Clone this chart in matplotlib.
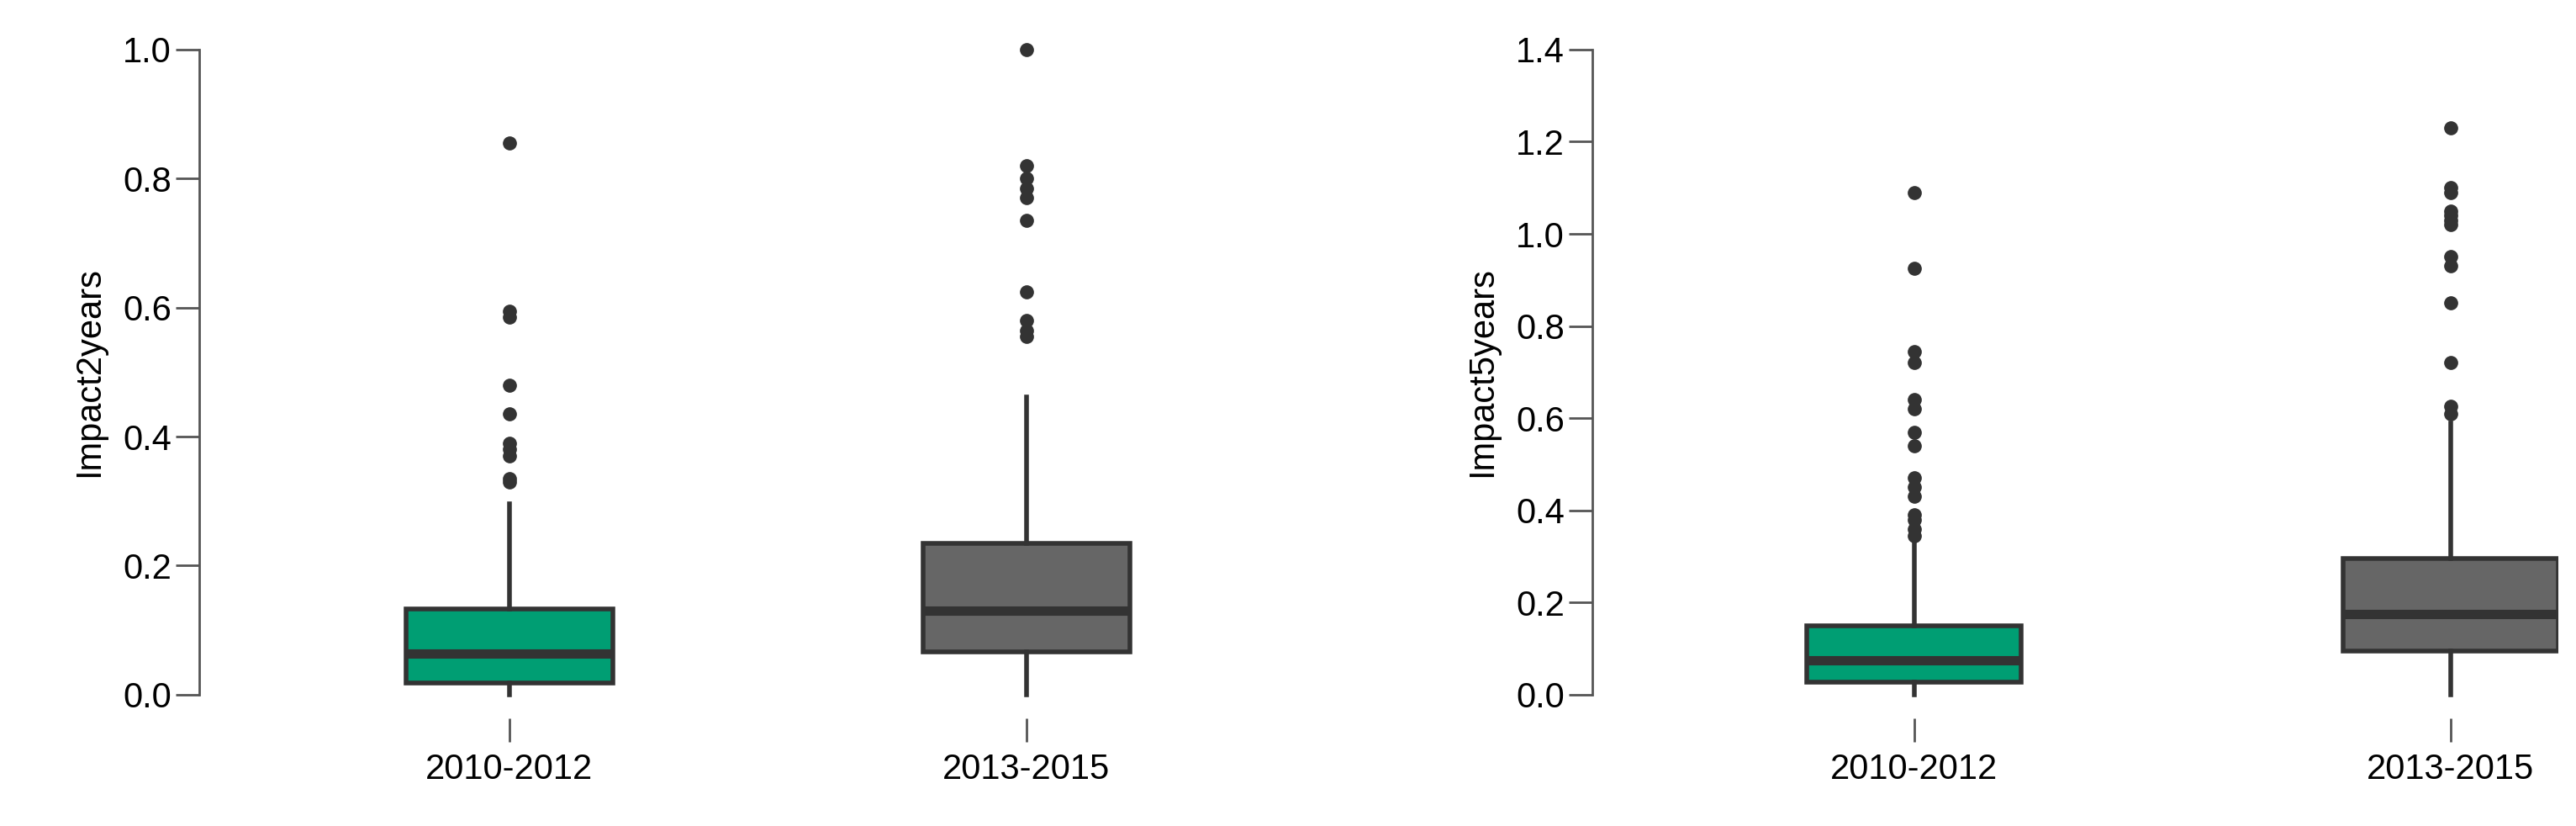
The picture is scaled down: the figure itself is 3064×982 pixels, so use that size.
import matplotlib
matplotlib.use("Agg")
import matplotlib.pyplot as plt

plt.rcParams['font.family'] = ['Liberation Sans', 'DejaVu Sans']

groups = ["2010-2012", "2013-2015"]
colors = ["#009E73", "#666666"]

# Impact2years stats
i2_q1 = [0.018, 0.066]; i2_med = [0.064, 0.130]; i2_q3 = [0.133, 0.235]
i2_lo = [0.0, 0.0]; i2_hi = [0.296, 0.462]
i2_fliers = [[0.33, 0.335, 0.37, 0.38, 0.39, 0.435, 0.48, 0.585, 0.595, 0.855],
             [0.555, 0.565, 0.58, 0.625, 0.735, 0.77, 0.785, 0.80, 0.82, 1.0]]
# Impact5years stats
i5_q1 = [0.028, 0.095]; i5_med = [0.075, 0.175]; i5_q3 = [0.150, 0.295]
i5_lo = [0.0, 0.0]; i5_hi = [0.335, 0.59]
i5_fliers = [[0.345, 0.36, 0.38, 0.39, 0.43, 0.45, 0.47, 0.54, 0.57, 0.62, 0.64, 0.72, 0.745, 0.925, 1.09],
             [0.61, 0.625, 0.72, 0.85, 0.93, 0.95, 1.02, 1.03, 1.04, 1.05, 1.09, 1.10, 1.23]]

fig = plt.figure(figsize=(30.64, 9.82), dpi=100)
ax1 = fig.add_axes([0.0772, 0.159, 0.4216, 0.781])
ax2 = fig.add_axes([0.618, 0.159, 0.375, 0.781])

def draw(ax, q1, med, q3, lo, hi, fl, ylabel, ymax, xmax):
    stats = [dict(q1=q1[i], med=med[i], q3=q3[i], whislo=lo[i], whishi=hi[i],
                  fliers=fl[i], label=groups[i]) for i in range(2)]
    bp = ax.bxp(stats, positions=[1, 2], widths=0.4, patch_artist=True,
                boxprops=dict(edgecolor="#333333", linewidth=4),
                medianprops=dict(color="#333333", linewidth=8),
                whiskerprops=dict(color="#333333", linewidth=4),
                capprops=dict(color="#333333", linewidth=4),
                flierprops=dict(marker="o", markerfacecolor="#333333",
                                markeredgecolor="#333333", markersize=11))
    for p, c in zip(bp["boxes"], colors):
        p.set_facecolor(c)
    for c in bp["caps"]:
        c.set_xdata([c.get_xdata()[0] + 0.1, c.get_xdata()[1] - 0.1])
    ax.set_xlim(0.4, xmax)
    ax.set_ylim(0, ymax)
    for a in bp["fliers"] + bp["caps"] + bp["whiskers"]:
        a.set_clip_on(False)
    n = int(round(ymax / 0.2)) + 1
    ax.set_yticks([round(0.2 * k, 1) for k in range(n)])
    ax.set_yticklabels([f"{0.2*k:.1f}" for k in range(n)])
    for s in ["top", "right"]:
        ax.spines[s].set_visible(False)
    ax.spines["bottom"].set_position(("outward", 20))
    ax.spines["bottom"].set_visible(False)
    ax.spines["left"].set_linewidth(2)
    ax.spines["left"].set_color("#555555")
    ax.tick_params(axis="both", labelsize=30, length=20, width=2, color="#555555")
    ax.tick_params(axis="x", pad=10)
    ax.set_ylabel(ylabel, fontsize=30, labelpad=14)

draw(ax1, i2_q1, i2_med, i2_q3, i2_lo, i2_hi, i2_fliers, "Impact2years", 1.0, 2.5)
draw(ax2, i5_q1, i5_med, i5_q3, i5_lo, i5_hi, i5_fliers, "Impact5years", 1.4, 2.2)

fig.savefig("out.png", dpi=100)
